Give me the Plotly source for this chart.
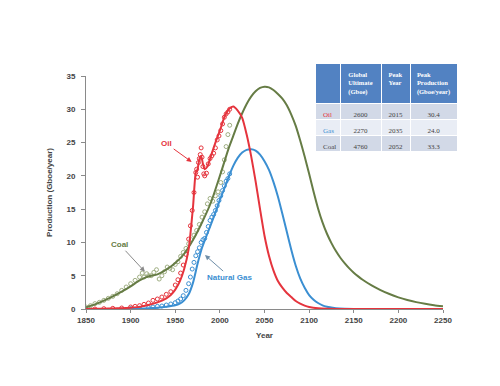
import plotly.graph_objects as go

# ---------------- model curves ----------------
oil_model_years = [1850, 1860, 1870, 1880, 1890, 1900, 1910, 1920, 1930, 1940, 1945, 1950, 1955, 1960, 1965,
                   1970, 1973, 1975, 1977, 1979, 1981, 1983, 1986, 1990, 1995, 2000, 2005, 2010, 2015,
                   2020, 2025, 2030, 2035, 2040, 2045, 2050, 2055, 2060, 2065, 2070, 2075, 2080, 2085, 2090,
                   2095, 2100, 2110, 2120, 2130, 2150, 2200, 2250]
oil_model_vals = [0.0, 0.02, 0.05, 0.08, 0.12, 0.2, 0.32, 0.6, 1.0, 1.6, 2.1, 2.9, 4.1, 6.0, 9.0,
                  15.5, 20.5, 21.0, 22.5, 23.0, 21.8, 21.0, 21.4, 23.0, 25.0, 26.8, 28.8, 30.0, 30.4,
                  29.8, 28.7, 26.2, 23.0, 19.2, 15.0, 11.0, 8.0, 5.8, 4.2, 3.2, 2.4, 1.8, 1.2, 0.8,
                  0.5, 0.3, 0.1, 0.03, 0.0, 0.0, 0.0, 0.0]

gas_model_years = [1880, 1900, 1910, 1920, 1930, 1940, 1950, 1955, 1960, 1965, 1970, 1975, 1980, 1985, 1990,
                   1995, 2000, 2005, 2010, 2015, 2020, 2025, 2030, 2035, 2040, 2045, 2050, 2055, 2060, 2065,
                   2070, 2075, 2080, 2085, 2090, 2095, 2100, 2105, 2110, 2115, 2120, 2130, 2140, 2150, 2200, 2250]
gas_model_vals = [0.0, 0.02, 0.05, 0.1, 0.2, 0.35, 0.55, 0.8, 1.3, 2.2, 4.0, 6.8, 9.2, 11.0, 12.7,
                  14.5, 16.4, 18.1, 19.9, 21.5, 22.7, 23.5, 23.9, 24.0, 23.8, 23.2, 22.2, 20.9, 19.1, 16.9,
                  14.3, 11.6, 8.9, 6.5, 4.6, 3.2, 2.1, 1.4, 0.9, 0.55, 0.35, 0.12, 0.03, 0.0, 0.0, 0.0]

coal_model_years = [1850, 1860, 1870, 1880, 1890, 1900, 1910, 1920, 1930, 1940, 1950, 1960, 1970, 1980, 1990,
                    2000, 2005, 2010, 2015, 2020, 2025, 2030, 2035, 2040, 2045, 2050, 2055, 2060, 2065, 2070,
                    2075, 2080, 2085, 2090, 2095, 2100, 2105, 2110, 2115, 2120, 2125, 2130, 2135, 2140, 2145,
                    2150, 2155, 2160, 2170, 2180, 2190, 2200, 2210, 2220, 2230, 2240, 2250]
coal_model_vals = [0.25, 0.7, 1.25, 1.9, 2.6, 3.4, 4.3, 4.9, 5.2, 5.9, 6.9, 8.3, 10.4, 13.0, 16.0,
                   20.0, 22.1, 24.2, 26.0, 27.8, 29.4, 30.8, 31.9, 32.7, 33.2, 33.4, 33.3, 32.9, 32.3, 31.6,
                   30.6, 29.2, 27.5, 25.3, 22.9, 20.3, 17.6, 15.1, 13.0, 11.3, 9.9, 8.7, 7.7, 6.85, 6.1,
                   5.45, 4.9, 4.4, 3.55, 2.85, 2.25, 1.75, 1.35, 1.03, 0.78, 0.58, 0.42]

# ---------------- historical data points ----------------
oil_data_years = [1860, 1870, 1880, 1890, 1900, 1905, 1910, 1915, 1920, 1925, 1930, 1935, 1940, 1945, 1950,
                  1953, 1956, 1959, 1962, 1965, 1967, 1969, 1971, 1973, 1974, 1975, 1976, 1977, 1978, 1979,
                  1980, 1981, 1982, 1983, 1985, 1987, 1989, 1991, 1993, 1995, 1997, 1999, 2001, 2003, 2005,
                  2007, 2009, 2011]
oil_data_vals = [0.0, 0.05, 0.1, 0.15, 0.3, 0.4, 0.5, 0.7, 0.9, 1.3, 1.5, 1.8, 2.2, 2.6, 3.6,
                 4.4, 5.4, 6.6, 8.2, 10.5, 12.5, 14.8, 17.5, 20.5, 21.0, 19.8, 22.0, 22.6, 23.2, 24.2,
                 22.8, 21.4, 20.3, 20.0, 20.4, 21.8, 22.6, 23.0, 23.4, 24.2, 25.4, 26.0, 26.8, 27.8, 28.8,
                 29.3, 29.6, 30.0]

gas_data_years = [1900, 1910, 1920, 1925, 1930, 1935, 1940, 1945, 1950, 1953, 1956, 1959, 1962, 1965, 1967,
                  1969, 1971, 1973, 1975, 1977, 1979, 1981, 1983, 1985, 1987, 1989, 1991, 1993, 1995, 1997,
                  1999, 2001, 2003, 2005, 2007, 2009, 2011]
gas_data_vals = [0.05, 0.1, 0.2, 0.3, 0.4, 0.45, 0.6, 0.75, 0.95, 1.2, 1.5, 2.0, 2.8, 3.8, 4.8,
                 6.0, 7.0, 8.0, 8.6, 9.2, 10.0, 10.4, 10.6, 11.5, 12.4, 13.3, 13.8, 14.2, 14.8, 15.5,
                 16.3, 17.0, 17.8, 18.5, 19.2, 19.6, 20.3]

coal_data_years = [1850, 1855, 1860, 1865, 1870, 1875, 1880, 1885, 1890, 1895, 1900, 1905, 1910, 1913, 1915,
                   1918, 1920, 1923, 1926, 1929, 1932, 1935, 1938, 1941, 1944, 1947, 1950, 1953, 1956, 1959,
                   1962, 1965, 1968, 1971, 1974, 1977, 1980, 1983, 1986, 1989, 1992, 1995, 1998, 2001, 2003,
                   2005, 2007, 2009, 2011]
coal_data_vals = [0.3, 0.5, 0.8, 1.0, 1.3, 1.6, 1.9, 2.3, 2.8, 3.3, 3.8, 4.3, 4.8, 5.4, 4.8,
                  5.3, 5.0, 5.0, 5.5, 5.9, 4.5, 5.0, 5.6, 6.3, 6.1, 5.9, 6.7, 7.1, 7.9, 8.5,
                  9.1, 9.8, 10.4, 11.1, 11.8, 12.7, 13.8, 14.6, 15.8, 16.6, 16.2, 17.0, 17.6, 19.0, 20.6,
                  22.4, 24.4, 26.2, 27.6]

# ---------------- table ----------------
table_header = ["", "Global<br>Ultimate<br>(Gboe)", "Peak<br>Year", "Peak<br>Production<br>(Gboe/year)"]
table_fuels = ["Oil", "Gas", "Coal"]
table_ultimate = ["2600", "2270", "4760"]
table_peak_year = ["2015", "2035", "2052"]
table_peak_prod = ["30.4", "24.0", "33.3"]

x_ticks = [1850, 1900, 1950, 2000, 2050, 2100, 2150, 2200, 2250]
y_ticks = [0, 5, 10, 15, 20, 25, 30, 35]

RED = "#e5343d"
BLUE = "#3b8fd2"
COAL = "#667c45"
COAL_PTS = "#9fae82"

fig = go.Figure()

for yrs, vals, col in [(oil_data_years, oil_data_vals, RED),
                       (gas_data_years, gas_data_vals, BLUE),
                       (coal_data_years, coal_data_vals, COAL_PTS)]:
    fig.add_trace(go.Scatter(x=yrs, y=vals, mode="markers",
                             marker=dict(symbol="circle-open", size=4, color=col, line=dict(width=1)),
                             showlegend=False, hoverinfo="skip"))

for yrs, vals, col in [(coal_model_years, coal_model_vals, COAL),
                       (gas_model_years, gas_model_vals, BLUE),
                       (oil_model_years, oil_model_vals, RED)]:
    fig.add_trace(go.Scatter(x=yrs, y=vals, mode="lines",
                             line=dict(color=col, width=2, shape="spline", smoothing=0.6),
                             showlegend=False, hoverinfo="skip"))

W, H = 500, 386
ML, MR, MT, MB = 86, 40, 60, 77
pw = W - ML - MR
ph = H - MT - MB
x_right = 443
y_top = 76


def px_x(p):
    return (p - ML) / pw


def px_y(p):
    return (H - MB - p) / ph


fill_rows = ["#d2d9e7", "#e9edf5", "#d2d9e7"]
fig.add_trace(go.Table(
    domain=dict(x=[px_x(315), px_x(457)], y=[px_y(200), px_y(63)]),
    columnwidth=[25, 41, 29, 47],
    header=dict(values=table_header,
                fill_color="#5282c2",
                line=dict(color="white", width=1),
                font=dict(family="Liberation Serif", size=6.5, color="white", weight="bold"),
                align="center", height=30),
    cells=dict(values=[table_fuels, table_ultimate, table_peak_year, table_peak_prod],
               fill_color=[fill_rows] * 4,
               line=dict(color="white", width=1),
               font=dict(family="Liberation Serif", size=7,
                         color=[[RED, BLUE, "#444444"], ["#444444"] * 3, ["#444444"] * 3, ["#444444"] * 3]),
               align=["left", "center", "center", "center"], height=16),
))

axis_font = dict(family="Liberation Sans", size=8, color="#444444", weight="bold")

fig.update_layout(
    width=W, height=H,
    margin=dict(l=ML, r=MR, t=MT, b=MB, pad=0),
    paper_bgcolor="white", plot_bgcolor="white",
    xaxis=dict(range=[1850, 2250], domain=[0, px_x(x_right)], tickvals=x_ticks,
               showgrid=False, zeroline=False, showline=True, linecolor="#8a8a8a", linewidth=1,
               ticks="outside", ticklen=3, tickcolor="#8a8a8a", tickfont=axis_font,
               title=dict(text="Year", font=axis_font, standoff=8)),
    yaxis=dict(range=[0, 35], domain=[0, px_y(y_top)], tickvals=y_ticks,
               showgrid=False, zeroline=False, showline=True, linecolor="#8a8a8a", linewidth=1,
               ticks="outside", ticklen=4, tickcolor="#8a8a8a", tickfont=axis_font,
               ticklabelstandoff=4,
               title=dict(text="Production (Gboe/year)", font=axis_font, standoff=12)),
    annotations=[
        dict(x=1968.4, y=22.1, text="Oil", showarrow=True, ax=-25, ay=-18,
             font=dict(family="Liberation Sans", size=8, color=RED, weight="bold"),
             arrowcolor=RED, arrowwidth=1, arrowhead=2, arrowsize=1),
        dict(x=1916, y=5.6, text="Coal", showarrow=True, ax=-25, ay=-27,
             font=dict(family="Liberation Sans", size=8, color=COAL, weight="bold"),
             arrowcolor="#8a8a8a", arrowwidth=1, arrowhead=2, arrowsize=1),
        dict(x=1983.3, y=8.1, text="Natural Gas", showarrow=True, ax=25, ay=22,
             font=dict(family="Liberation Sans", size=8, color=BLUE, weight="bold"),
             arrowcolor="#6f8ea8", arrowwidth=1, arrowhead=2, arrowsize=1),
    ],
)

fig.write_html("out.html")
